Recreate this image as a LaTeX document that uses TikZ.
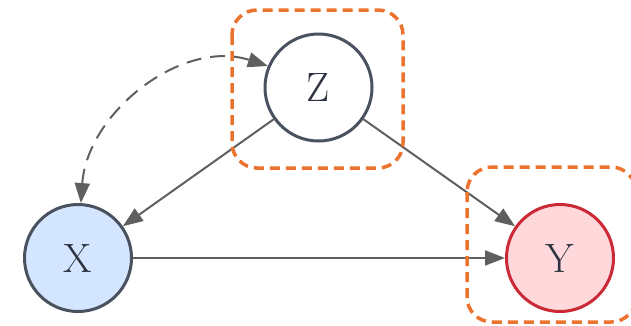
\documentclass[tikz,border=0pt]{standalone}
\usetikzlibrary{arrows.meta}
\definecolor{ringgray}{RGB}{74,82,96}
\definecolor{textdark}{RGB}{45,51,64}
\definecolor{xfill}{RGB}{212,229,255}
\definecolor{yfill}{RGB}{255,216,219}
\definecolor{yring}{RGB}{204,41,54}
\definecolor{groupor}{RGB}{235,115,45}
\definecolor{edgegray}{RGB}{95,95,95}
\tikzset{
  var/.style={circle, draw=ringgray, line width=3pt, fill=white,
    minimum size=107pt, inner sep=0pt, text=textdark,
    font=\fontsize{41}{41}\selectfont},
  edge/.style={draw=edgegray, line width=2pt,
    -{Triangle[length=20pt,width=15pt]}},
  latent/.style={edge, dash pattern=on 15pt off 9pt,
    {Triangle[length=20pt,width=15pt]}-{Triangle[length=20pt,width=15pt]}},
  group/.style={draw=groupor, line width=3.5pt, rounded corners=25pt,
    dash pattern=on 10pt off 6pt}
}
\begin{document}
\begin{tikzpicture}[x=1pt,y=1pt]
  \useasboundingbox (0,0) rectangle (631,-325);
  % variables
  \node[var] (Z) at (318.5,-87.5) {Z};
  \node[var, fill=xfill] (X) at (78,-258) {X};
  \node[var, fill=yfill, draw=yring] (Y) at (560,-258) {Y};
  % causal edges
  \draw[edge] (Z) -- (X);
  \draw[edge] (Z) -- (Y);
  \draw[edge] (X) -- (Y);
  % hidden common cause between X and Z
  \draw[latent] (X.87) to[out=86, in=162] (Z.157);
  % adjustment and outcome groups
  \draw[group] (232,-10) rectangle (403,-168);
  \draw[group] (467,-167) rectangle (636,-322);
\end{tikzpicture}
\end{document}
